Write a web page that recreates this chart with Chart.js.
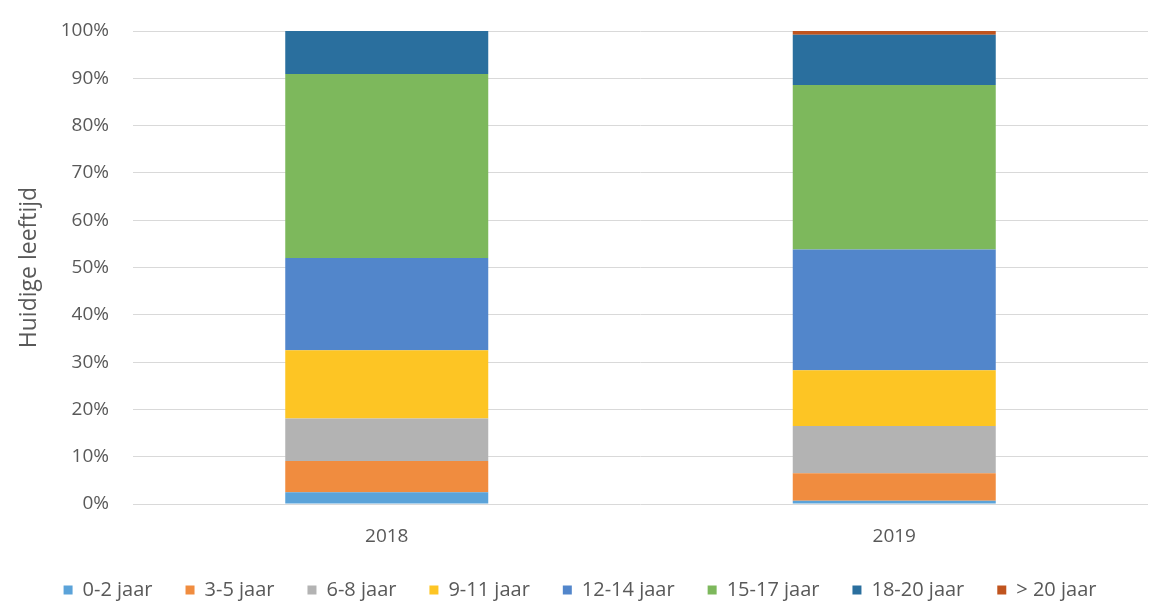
<!DOCTYPE html>
<html lang="nl">
<head>
<meta charset="utf-8">
<title>Huidige leeftijd</title>
<script src="https://cdn.jsdelivr.net/npm/chart.js@4/dist/chart.umd.min.js"></script>
<style>
    html, body { margin: 0; padding: 0; background: #ffffff; }
    #wrap { width: 1157px; height: 602px; position: relative; }
</style>
</head>
<body>
<div id="wrap"><canvas id="leeftijdChart"></canvas></div>
<script>
// Aandeel per leeftijdsgroep (procenten), per jaar
const years = ['2018', '2019'];
const groups = ['0-2 jaar', '3-5 jaar', '6-8 jaar', '9-11 jaar', '12-14 jaar', '15-17 jaar', '18-20 jaar', '> 20 jaar'];
const share0to2 = [2.5, 0.7];
const share3to5 = [6.6, 5.8];
const share6to8 = [9.0, 10.0];
const share9to11 = [14.4, 11.8];
const share12to14 = [19.5, 25.5];
const share15to17 = [38.9, 34.8];
const share18to20 = [9.1, 10.6];
const shareOver20 = [0.0, 0.8];
const yTicks = [0, 10, 20, 30, 40, 50, 60, 70, 80, 90, 100];

const groupColors = ['#5ba3d9', '#f08c3f', '#b3b3b3', '#fdc524', '#5286cb', '#7db85c', '#2a6f9e', '#c0541e'];
const seriesValues = [share0to2, share3to5, share6to8, share9to11, share12to14, share15to17, share18to20, shareOver20];

const textColor = '#595959';
const fontFamily = '"Open Sans", "Noto Sans", sans-serif';

const datasets = groups.map((name, i) => ({
    label: name,
    data: seriesValues[i],
    backgroundColor: groupColors[i],
    borderWidth: 0,
    barPercentage: 0.4,
    categoryPercentage: 1.0
}));

const ctx = document.getElementById('leeftijdChart').getContext('2d');
new Chart(ctx, {
    type: 'bar',
    data: { labels: years, datasets: datasets },
    options: {
        responsive: true,
        maintainAspectRatio: false,
        animation: false,
        layout: {
            padding: { top: 31, right: 9, bottom: -8, left: 12 }
        },
        plugins: {
            tooltip: { enabled: false },
            legend: {
                position: 'bottom',
                labels: {
                    color: textColor,
                    font: { family: fontFamily, size: 20 },
                    boxWidth: 9,
                    boxHeight: 9,
                    padding: 33
                }
            }
        },
        scales: {
            x: {
                stacked: true,
                grid: { display: false },
                border: { display: false },
                ticks: {
                    color: textColor,
                    font: { family: fontFamily, size: 19 },
                    padding: 13
                },
                afterFit: function(scale) { scale.height = 43; }
            },
            y: {
                stacked: true,
                min: 0,
                max: 100,
                afterBuildTicks: function(scale) {
                    scale.ticks = yTicks.map(v => ({ value: v }));
                },
                grid: { color: '#d9d9d9', drawTicks: false },
                border: { display: false },
                ticks: {
                    color: textColor,
                    font: { family: fontFamily, size: 19 },
                    padding: 24,
                    callback: function(value) { return value + '%'; }
                },
                title: {
                    display: true,
                    text: 'Huidige leeftijd',
                    color: textColor,
                    font: { family: fontFamily, size: 23 },
                    padding: { top: 4, bottom: 0 }
                },
                afterFit: function(scale) {
                    // keep the label overflow from pushing the plot area down
                    scale.width = 121;
                    scale.paddingTop = 12;
                    scale.paddingBottom = 12;
                }
            }
        }
    }
});
</script>
</body>
</html>
